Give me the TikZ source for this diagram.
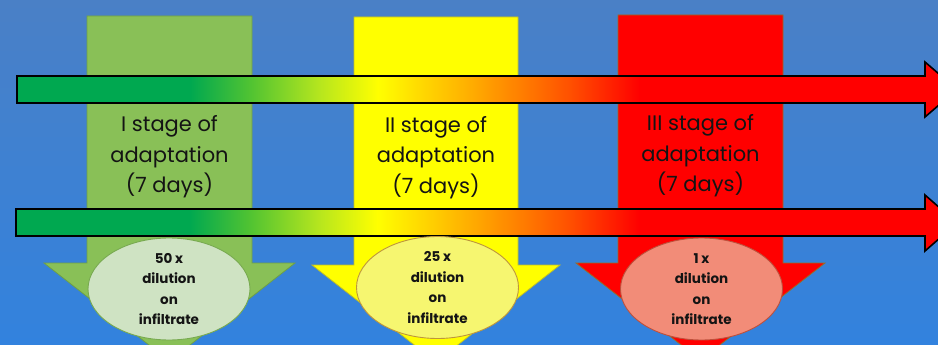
\documentclass[tikz,border=0pt]{standalone}
\usepackage{fontspec}
\setmainfont{Poppins}
\usetikzlibrary{shapes.geometric}
\definecolor{bgtop}{RGB}{74,128,198}
\definecolor{bgbot}{RGB}{50,130,222}
\definecolor{tgreen}{RGB}{0,168,80}
\definecolor{tgreenb}{RGB}{80,195,50}
\definecolor{tygreen}{RGB}{182,230,30}
\definecolor{tyellow}{RGB}{255,255,0}
\definecolor{torange}{RGB}{255,165,0}
\definecolor{tredor}{RGB}{255,80,0}
\definecolor{tred}{RGB}{255,0,0}
\definecolor{sgreen}{RGB}{137,192,87}
\definecolor{sgreenedge}{RGB}{110,160,70}
\definecolor{syellow}{RGB}{255,255,0}
\definecolor{syellowedge}{RGB}{190,190,40}
\definecolor{sred}{RGB}{255,0,0}
\definecolor{srededge}{RGB}{150,110,40}
\definecolor{egreen}{RGB}{207,227,195}
\definecolor{egreenedge}{RGB}{120,170,80}
\definecolor{eyellow}{RGB}{246,246,112}
\definecolor{eyellowedge}{RGB}{190,150,60}
\definecolor{ered}{RGB}{242,140,120}
\definecolor{erededge}{RGB}{190,80,60}
\definecolor{txt}{RGB}{20,20,20}
\pgfdeclarehorizontalshading{timeline}{100bp}{color(0bp)=(tgreen); color(34.2bp)=(tgreen); color(37.4bp)=(tgreenb); color(41.1bp)=(tygreen); color(44.2bp)=(tyellow); color(49.6bp)=(torange); color(54.4bp)=(tredor); color(58.1bp)=(tred); color(100bp)=(tred)}
\tikzset{
  downarr/.style={line width=0.8pt},
  timearrow/.style={shading=timeline, draw=black, line width=1.6pt, line join=miter},
  stagetext/.style={align=center, text=txt, font=\fontsize{21}{30.5}\selectfont, inner sep=0pt},
  dilution/.style={ellipse, line width=0.9pt, minimum width=162pt, minimum height=102pt, inner sep=0pt, align=center, text=txt, font=\bfseries\fontsize{13.5}{20.5}\selectfont}
}
\begin{document}
\begin{tikzpicture}[x=1pt,y=-1pt]
\useasboundingbox (0,0) rectangle (938,345);
\begin{scope}
\clip (0,0) rectangle (938,345);
\shade[top color=bgtop, bottom color=bgbot] (0,0) rectangle (938,345);
% vertical stage arrows
\draw[downarr, fill=sgreen, draw=sgreenedge] (87,16) -- (252,16) -- (252,263) -- (295,263) -- (169.5,361) -- (44,263) -- (87,263) -- cycle;
\draw[downarr, fill=syellow, draw=syellowedge] (354,17) -- (518,17) -- (518,265) -- (560,265) -- (436,362) -- (312,265) -- (354,265) -- cycle;
\draw[downarr, fill=sred, draw=srededge] (618,15) -- (783,15) -- (783,263) -- (825,263) -- (700.5,360) -- (576,263) -- (618,263) -- cycle;
% horizontal time arrows
\shadedraw[timearrow] (17,76) -- (925,76) -- (925,62) -- (957,89.5) -- (925,117) -- (925,103) -- (17,103) -- cycle;
\shadedraw[timearrow] (16,209) -- (925,209) -- (925,195) -- (957,223) -- (925,251) -- (925,236) -- (16,236) -- cycle;
% stage texts
\node[stagetext] (s1) at (169.5,157) {I stage of\\adaptation\\(7 days)};
\node[stagetext] (s2) at (436,157.5) {II stage of\\adaptation\\(7 days)};
\node[stagetext] (s3) at (700.5,156) {III stage of\\adaptation\\(7 days)};
% dilution ellipses
\node[dilution, fill=egreen, draw=egreenedge] (e1) at (169,289) {50 x\\dilution\\on\\infiltrate};
\node[dilution, fill=eyellow, draw=eyellowedge] (e2) at (437.5,287.5) {25 x\\dilution\\on\\infiltrate};
\node[dilution, fill=ered, draw=erededge] (e3) at (701.5,289) {1 x\\dilution\\on\\infiltrate};
\end{scope}
\end{tikzpicture}
\end{document}
